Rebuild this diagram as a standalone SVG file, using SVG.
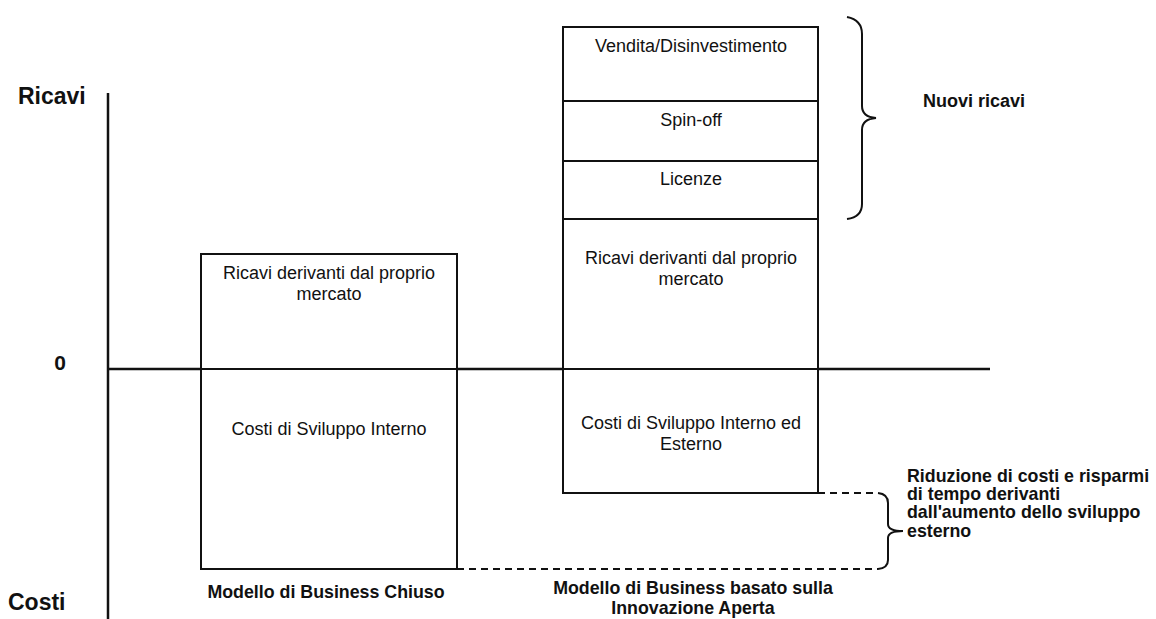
<svg xmlns="http://www.w3.org/2000/svg" width="1156" height="619" viewBox="0 0 1156 619">
  <style>
    .line { stroke: #111; stroke-width: 2; fill: none; }
    .axis { stroke: #111; stroke-width: 2.5; fill: none; }
    .dash { stroke: #111; stroke-width: 2; fill: none; stroke-dasharray: 7 5; }
    .box { stroke: #111; stroke-width: 2; fill: #fff; }
    .t { font-family: "Liberation Sans", Arial, sans-serif; font-size: 18px; fill: #111; text-anchor: middle; }
    .b { font-family: "Liberation Sans", Arial, sans-serif; font-weight: bold; fill: #111; }
  </style>
  <rect width="1156" height="619" fill="#fff"/>

  <!-- axes -->
  <g id="axes">
    <line class="axis" x1="108" y1="93" x2="108" y2="619"/>
    <line class="axis" x1="108" y1="369" x2="990" y2="369"/>
    <text class="b" x="18" y="104" font-size="23">Ricavi</text>
    <text class="b" x="60" y="370" font-size="21" text-anchor="middle">0</text>
    <text class="b" x="8" y="610" font-size="23">Costi</text>
  </g>

  <!-- closed business model column -->
  <g id="closed-model">
    <rect class="box" x="201" y="254" width="256" height="315"/>
    <line class="line" x1="201" y1="369" x2="457" y2="369"/>
    <text class="t" x="329" y="279">Ricavi derivanti dal proprio</text>
    <text class="t" x="329" y="300">mercato</text>
    <text class="t" x="329" y="435">Costi di Sviluppo Interno</text>
    <text class="b" x="326" y="598" font-size="17.8" text-anchor="middle">Modello di Business Chiuso</text>
  </g>

  <!-- open innovation column -->
  <g id="open-model">
    <rect class="box" x="563" y="27" width="255" height="466"/>
    <line class="line" x1="563" y1="101" x2="818" y2="101"/>
    <line class="line" x1="563" y1="161" x2="818" y2="161"/>
    <line class="line" x1="563" y1="219" x2="818" y2="219"/>
    <line class="line" x1="563" y1="369" x2="818" y2="369"/>
    <text class="t" x="691" y="52">Vendita/Disinvestimento</text>
    <text class="t" x="691" y="126">Spin-off</text>
    <text class="t" x="691" y="185">Licenze</text>
    <text class="t" x="691" y="264">Ricavi derivanti dal proprio</text>
    <text class="t" x="691" y="285">mercato</text>
    <text class="t" x="691" y="429">Costi di Sviluppo Interno ed</text>
    <text class="t" x="691" y="450">Esterno</text>
    <text class="b" x="693" y="594" font-size="17.8" text-anchor="middle">Modello di Business basato sulla</text>
    <text class="b" x="693" y="614" font-size="17.8" text-anchor="middle">Innovazione Aperta</text>
  </g>

  <!-- new revenues brace -->
  <g id="new-revenues">
    <path class="line" d="M847,17 Q862,20 862,34 L862,106 Q862,117 876,118 Q862,119 862,130 L862,204 Q862,217 847,219"/>
    <text class="b" x="923" y="107" font-size="18">Nuovi ricavi</text>
  </g>

  <!-- dashed guides and cost reduction brace -->
  <g id="connectors">
    <line class="dash" x1="818" y1="493" x2="878" y2="493"/>
    <line class="dash" x1="457" y1="569" x2="878" y2="569"/>
    <path class="line" d="M878,493 Q888,494 888,503 L888,524 Q888,531 903,531 Q888,531 888,538 L888,560 Q888,568 878,569"/>
  </g>
  <g id="cost-reduction">
    <text class="b" x="907" y="482" font-size="17.8">Riduzione di costi e risparmi</text>
    <text class="b" x="907" y="500" font-size="17.8">di tempo derivanti</text>
    <text class="b" x="907" y="518" font-size="17.8">dall'aumento dello sviluppo</text>
    <text class="b" x="907" y="537" font-size="17.8">esterno</text>
  </g>
</svg>
